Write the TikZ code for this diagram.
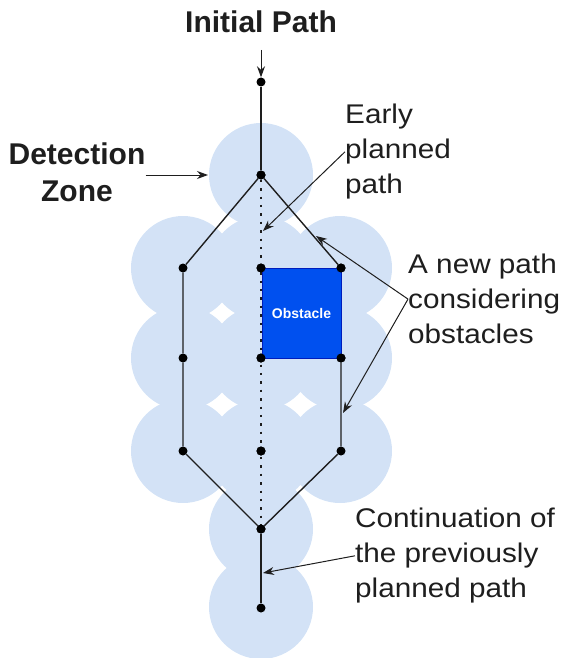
\documentclass[tikz,border=0pt]{standalone}
\usepackage{fontspec}
\setmainfont{Liberation Sans}
\newfontfamily\notefont{Liberation Sans}[FakeStretch=1.1]
\usetikzlibrary{arrows.meta}
\definecolor{zoneblue}{RGB}{211,226,246}
\definecolor{obsblue}{RGB}{0,80,239}
\definecolor{obsedge}{RGB}{0,29,188}
\definecolor{inkgray}{RGB}{30,30,30}

\begin{document}
\begin{tikzpicture}[
  x=1pt, y=-1pt,
  zone/.style={fill=zoneblue},
  dot/.style={circle, fill=black, inner sep=0pt, minimum size=9pt},
  obstacle/.style={rectangle, draw=obsedge, fill=obsblue, minimum width=79pt, minimum height=90pt, inner sep=0pt, text=white, font=\fontsize{14}{16}\selectfont\bfseries},
  route/.style={line width=1.4pt, color=inkgray},
  plan/.style={line width=2.4pt, dash pattern=on 2.4pt off 6pt, color=inkgray},
  arrow/.style={-{Stealth[length=11pt,width=8pt]}, line width=1pt, color=inkgray},
  note/.style={inner sep=0pt, align=left, anchor=north west, text=inkgray, font=\notefont\fontsize{27}{35}\selectfont},
  title/.style={inner sep=0pt, align=center, text=inkgray, font=\fontsize{30}{37}\selectfont\bfseries}
]
\useasboundingbox (0,0) rectangle (563,658);

% Detection zones
\foreach \cx/\cy in {261/175, 183/268, 261/268, 340/268, 183/358, 261/358, 340/358, 183/451, 261/451, 340/451, 261/529, 261/607}
  \fill[zone] (\cx,\cy) circle (52pt);

% Waypoints
\node[dot] (p0) at (261,82) {};
\node[dot] (p1) at (261,175) {};
\node[dot] (l1) at (183,268) {};
\node[dot] (l2) at (183,358) {};
\node[dot] (l3) at (183,451) {};
\node[dot] (m1) at (261,268) {};
\node[dot] (m2) at (261,358) {};
\node[dot] (m3) at (261,451) {};
\node[dot] (r1) at (341,268) {};
\node[dot] (r2) at (341,358) {};
\node[dot] (r3) at (341,451) {};
\node[dot] (p2) at (261,529) {};
\node[dot] (p3) at (261,608) {};

% Paths
\draw[route] (p0) -- (p1);
\draw[route] (p1) -- (l1) -- (l2) -- (l3) -- (p2);
\draw[route] (p1) -- (r1);
\draw[route] (r2) -- (r3) -- (p2);
\draw[route] (p2) -- (p3);

% Obstacle
\node[obstacle] (obs) at (301.5,313) {Obstacle};
\draw[plan] (p1) -- (p2);
\foreach \n in {p1,m1,m2,m3,r1,r2,p2}
  \fill (\n) circle (4.5pt);

% Labels
\node[title, anchor=base] (init) at (261,33) {Initial Path};
\node[title, anchor=north] (det) at (77,143) {Detection\\Zone};
\node[note] (early) at (345,104) {Early\\planned\\path};
\node[note] (newp) at (408,254) {A new path\\considering\\obstacles};
\node[note] (cont) at (355,508) {Continuation of\\the previously\\planned path};

% Pointers
\coordinate (ip) at (261,50);
\coordinate (dz) at (208,175);
\coordinate (ep) at (263,231);
\coordinate (np1) at (316,236);
\coordinate (np2) at (343,413);
\coordinate (cp) at (263,573);
\draw[arrow] (ip) -- (p0);
\draw[arrow] (det.east |- dz) -- (dz);
\draw[arrow] (early.west) -- (ep);
\draw[arrow] (newp.west) -- (np1);
\draw[arrow] (newp.west) -- (np2);
\draw[arrow] (cont.west) -- (cp);

\end{tikzpicture}
\end{document}
